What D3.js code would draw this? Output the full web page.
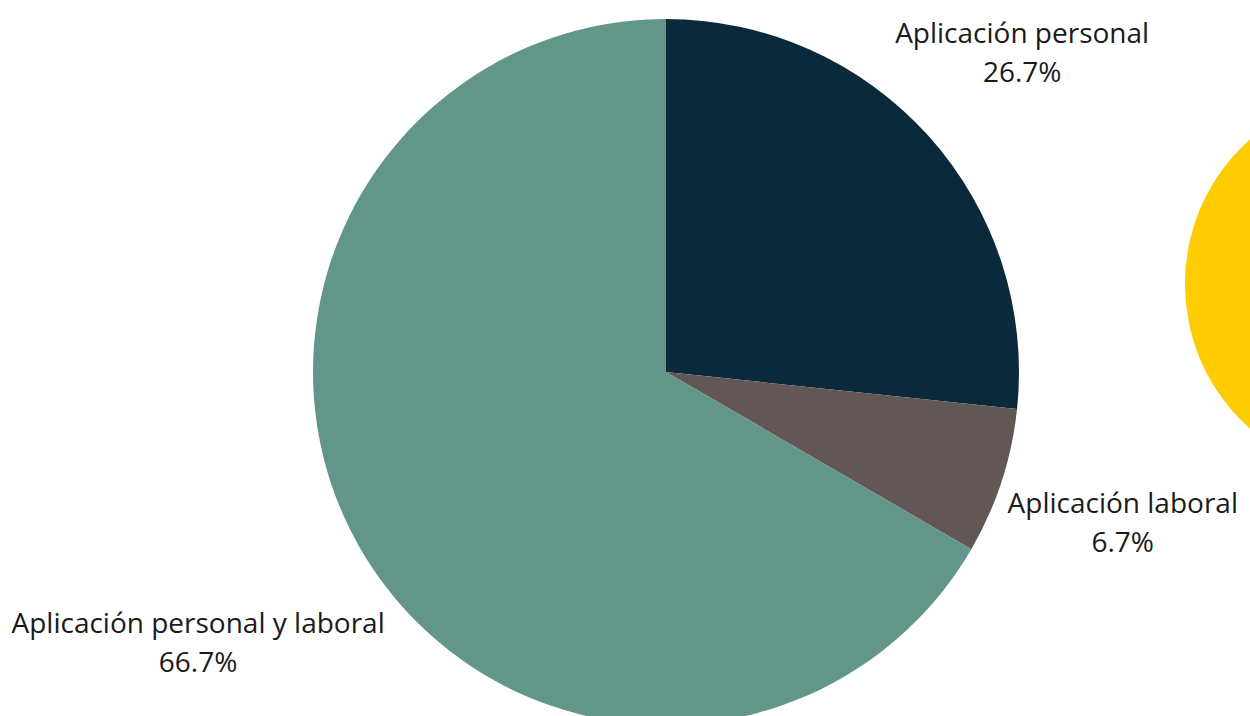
<!DOCTYPE html>
<html>
<head>
<meta charset="utf-8">
<script src="https://cdn.jsdelivr.net/npm/d3@7"></script>
<style>
  html, body { margin: 0; padding: 0; background: #ffffff; overflow: hidden; }
  svg { display: block; }
  text { font-family: "Open Sans", sans-serif; }
</style>
</head>
<body>
<svg id="chart" width="1250" height="716"></svg>
<script>
// ---- data ----
const categories = ["Aplicación personal", "Aplicación laboral", "Aplicación personal y laboral"];
const values = [26.7, 6.7, 66.7];
const valueLabels = ["26.7%", "6.7%", "66.7%"];
const colors = ["#0a2a3b", "#635756", "#62968a"];

// ---- layout ----
const W = 1250, H = 716;
const cx = 666, cy = 372, R = 353;
const fontSize = 28, lineGap = 39, labelGap = 6;

const svg = d3.select("#chart");
svg.append("rect").attr("width", W).attr("height", H).attr("fill", "#ffffff");

// decorative yellow shape at right edge
svg.append("ellipse")
  .attr("cx", 1370).attr("cy", 284).attr("rx", 185).attr("ry", 190)
  .attr("fill", "#ffcc00");

const pie = d3.pie().sort(null).value(d => d.value);
const data = categories.map((c, i) => ({ name: c, value: values[i], label: valueLabels[i], color: colors[i] }));
const arcs = pie(data);
const arc = d3.arc().innerRadius(0).outerRadius(R);

const g = svg.append("g").attr("transform", `translate(${cx},${cy})`);
g.selectAll("path.slice").data(arcs).join("path")
  .attr("class", "slice")
  .attr("d", arc)
  .attr("fill", d => d.data.color);

// labels
const lg = g.selectAll("g.lbl").data(arcs).join("g").attr("class", "lbl");
lg.each(function(d) {
  const sel = d3.select(this);
  const t = sel.append("text")
    .attr("text-anchor", "middle")
    .attr("font-size", fontSize)
    .attr("fill", "#1a1a1a");
  t.append("tspan").attr("x", 0).attr("y", 0).text(d.data.name);
  t.append("tspan").attr("x", 0).attr("y", lineGap).text(d.data.label);
  const bb = this.getBBox();
  const hw = bb.width / 2, hh = bb.height / 2;
  const mid = (d.startAngle + d.endAngle) / 2;
  const ux = Math.sin(mid), uy = -Math.cos(mid);
  const dist = R + labelGap + hw * Math.abs(ux) + hh * Math.abs(uy);
  const bcx = bb.x + hw, bcy = bb.y + hh;
  sel.attr("transform", `translate(${dist * ux - bcx},${dist * uy - bcy})`);
});
</script>
</body>
</html>
